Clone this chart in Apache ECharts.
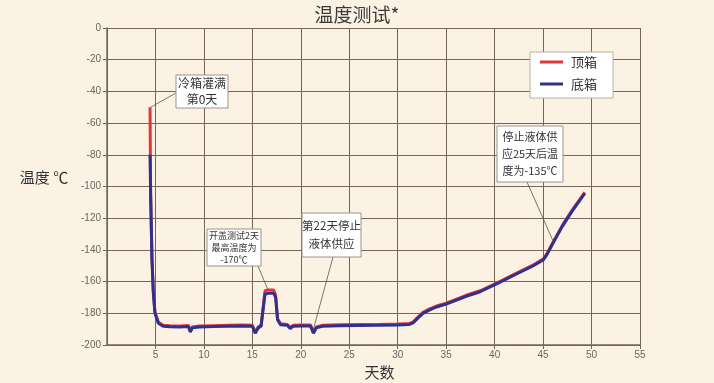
<!DOCTYPE html>
<html>
<head>
<meta charset="utf-8">
<script src="https://cdn.jsdelivr.net/npm/echarts@6/dist/echarts.min.js"></script>
<style>
html,body{margin:0;padding:0;background:#fcf2e3;}
#c{width:714px;height:383px;}
</style>
</head>
<body>
<div id="c"></div>
<script>
// ---- data ----
var titleText = '温度测试*';
var xName = '天数';
var yName = '温度 ℃';
var seriesNames = ['顶箱', '底箱'];
var days = [4.44,4.5,4.64,4.78,4.95,5.3,5.8,6.5,7.5,8.4,8.6,8.8,9.5,11,12.5,14,15.0,15.3,15.6,15.9,16.1,16.3,16.6,17.2,17.4,17.6,17.9,18.6,18.9,19.2,20,21,21.3,21.6,22.2,24,26,28,30,31.2,31.6,32,32.6,33.3,34,35,36,37,38.5,40.2,42,44,45.0,45.4,46,47,48,49.3];
var topBox = [-50,-103.5,-145.5,-166.4,-179.4,-185.7,-187.6,-187.9,-188,-187.7,-191.2,-188.6,-188,-187.8,-187.6,-187.4,-187.6,-192,-188.6,-187.6,-177,-165.8,-165.3,-165.3,-168.5,-183.4,-186.6,-187,-189,-187.6,-187.4,-187.4,-192,-188.6,-187.6,-187.3,-187.1,-187,-186.8,-186.4,-185.4,-182.9,-179.4,-177.2,-175.4,-173.6,-171.2,-168.8,-165.8,-160.9,-155.4,-149.4,-145.8,-142.4,-135.4,-124.4,-114.9,-103.7];
var bottomBox = [-80,-104,-146,-167,-180,-186.3,-188.2,-188.5,-188.6,-188.3,-191.8,-189.2,-188.6,-188.4,-188.2,-188,-188.2,-192.6,-189.2,-188.2,-178,-168,-167.4,-167.4,-170,-184,-187.2,-187.6,-189.6,-188.2,-188,-188,-192.6,-189.2,-188.2,-187.9,-187.7,-187.6,-187.4,-187,-186,-183.5,-180,-177.8,-176,-174.2,-171.8,-169.4,-166.4,-161.5,-156,-150,-146.4,-143,-136,-125,-115.5,-104.3];
// annotations: text and the data point they point at
var noteTexts = ['冷箱灌满\n第0天', '开盖测试2天\n最高温度为\n-170℃', '第22天停止\n液体供应', '停止液体供\n应25天后温\n度为-135℃'];
var noteAnchors = [[4.5,-50],[16.6,-165],[21.3,-190],[46.0,-134]];

// ---- build ----
function pairs(xs, ys){ var out=[]; for(var i=0;i<xs.length;i++) out.push([xs[i], ys[i]]); return out; }

var chart = echarts.init(document.getElementById('c'), null, {renderer:'canvas'});
var gridCol = '#73675c';
var labelFont = 'Liberation Sans, Arial, sans-serif';
var cjk = '"Noto Sans CJK SC", sans-serif';

var option = {
  backgroundColor: '#fcf2e3',
  animation: false,
  title: {
    text: titleText, left: 'center', top: 0,
    textStyle: {fontSize: 19, fontWeight: 'normal', color: '#3a3a3a', fontFamily: cjk}
  },
  legend: {
    orient: 'vertical', left: 530, top: 52,
    backgroundColor: '#ffffff', borderColor: '#b8b0a8', borderWidth: 1,
    padding: [3, 16, 7, 10], itemGap: 8, itemWidth: 23, itemHeight: 3,
    icon: 'rect',
    textStyle: {fontSize: 13, color: '#333', fontFamily: cjk, lineHeight: 14, padding: [0,0,0,3]},
    data: seriesNames
  },
  grid: {left: 107, right: 74, top: 28, bottom: 38, containLabel: false, outerBoundsMode: 'none'},
  xAxis: {
    type: 'value', min: 0, max: 55, interval: 5,
    name: xName, nameLocation: 'middle', nameGap: 20,
    nameTextStyle: {fontSize: 15, color: '#333', fontFamily: cjk, padding: [0,0,0,12]},
    axisLine: {show: true, onZero: false, lineStyle: {color: gridCol, width: 1.5}},
    axisTick: {show: true, inside: false, length: 4, lineStyle: {color: gridCol}},
    axisLabel: {showMinLabel: false, fontSize: 10, color: '#666', margin: 5, fontFamily: labelFont},
    splitLine: {show: true, lineStyle: {color: gridCol, width: 1}}
  },
  yAxis: {
    type: 'value', min: -200, max: 0, interval: 20,
    axisLine: {show: true, onZero: false, lineStyle: {color: gridCol, width: 1.5}},
    axisTick: {show: true, inside: false, length: 4, lineStyle: {color: gridCol}},
    axisLabel: {fontSize: 10, color: '#666', margin: 6, fontFamily: labelFont},
    splitLine: {show: true, lineStyle: {color: gridCol, width: 1}}
  },
  series: [
    {name: seriesNames[0], type: 'line', data: pairs(days, topBox), showSymbol: false,
     lineStyle: {color: '#e3333d', width: 3}, itemStyle: {color: '#e3333d'}, z: 2},
    {name: seriesNames[1], type: 'line', data: pairs(days, bottomBox), showSymbol: false,
     lineStyle: {color: '#2f318c', width: 3}, itemStyle: {color: '#2f318c'}, z: 3}
  ]
};
chart.setOption(option);

// annotation boxes (pixel layout) with leader lines to data anchors
var boxes = [
  {x:176, y:75, w:52, h:33, fs:12, lh:16, lineFrom:[176,93]},
  {x:207, y:229, w:54, h:37, fs:9, lh:12, lineFrom:[258,266]},
  {x:302, y:213, w:59, h:44, fs:11.5, lh:18, lineFrom:[333,257]},
  {x:497, y:126, w:66, h:56, fs:11, lh:17, lineFrom:[527,182]}
];
var g = [{type:'text', x:44, y:177, style:{text:yName, fill:'#333', fontSize:15, fontFamily:cjk,
          align:'center', verticalAlign:'middle'}}];
boxes.forEach(function(b, i){
  var p = chart.convertToPixel({gridIndex:0}, noteAnchors[i]);
  g.push({type:'line', z:10, shape:{x1:b.lineFrom[0], y1:b.lineFrom[1], x2:p[0], y2:p[1]},
          style:{stroke:'#555', lineWidth:0.8}});
  g.push({type:'rect', z:11, shape:{x:b.x, y:b.y, width:b.w, height:b.h},
          style:{fill:'#ffffff', stroke:'#9a948e', lineWidth:1}});
  g.push({type:'text', z:12, x:b.x + b.w/2, y:b.y + b.h/2,
          style:{text:noteTexts[i], fill:'#333', fontSize:b.fs, lineHeight:b.lh,
                 fontFamily:cjk, align:'center', verticalAlign:'middle'}});
});
chart.setOption({graphic: g});
</script>
</body>
</html>
